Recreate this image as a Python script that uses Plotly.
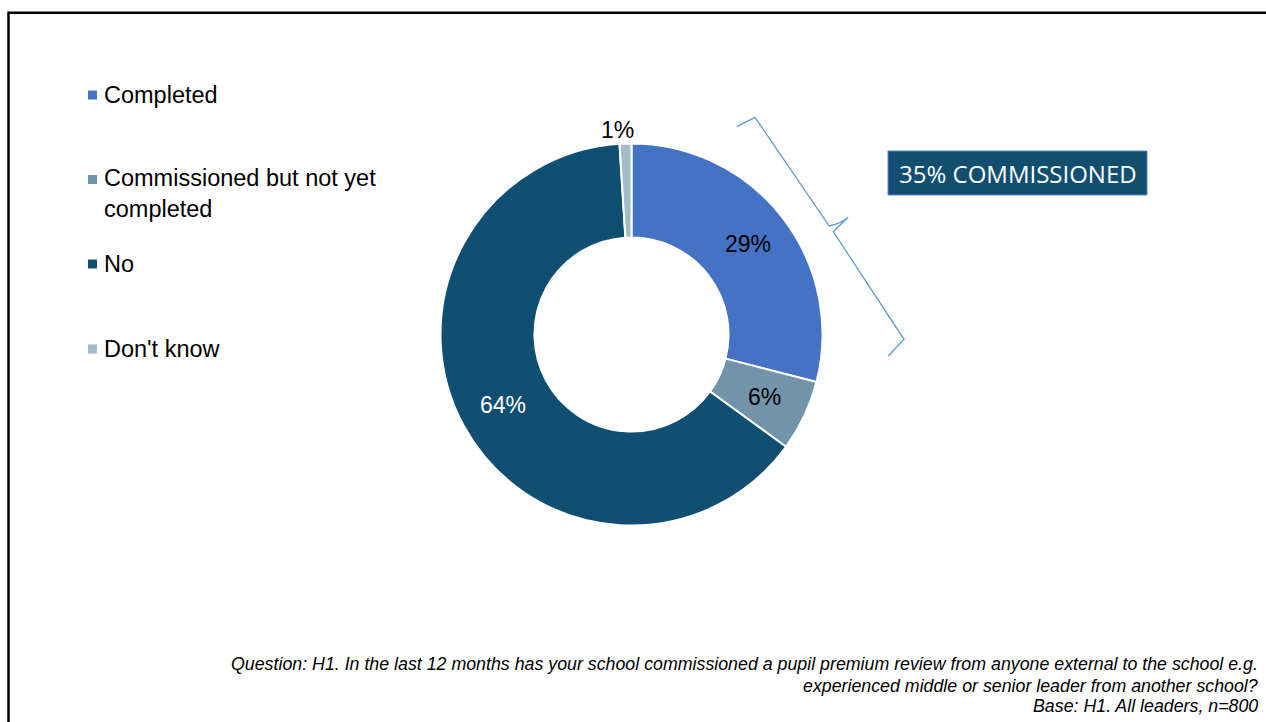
import math
import plotly.graph_objects as go

# Survey responses (share of leaders, %)
categories = ["Completed", "Commissioned but not yet<br>completed", "No", "Don't know"]
slice_names = ["Completed", "Commissioned but not yet completed", "No", "Don't know"]
values = [29, 6, 64, 1]
colors = ["#4472C4", "#7294AB", "#114F72", "#A2BBCB"]
label_colors = ["black", "black", "white", "black"]

commissioned_total = values[0] + values[1]
footnote = [
    "Question: H1. In the last 12 months has your school commissioned a pupil premium review from anyone external to the school e.g.",
    "experienced middle or senior leader from another school?",
    "Base: H1. All leaders, n=800",
]

W, H = 1266, 722


def px(x):
    return x / W


def py(y):
    return 1 - y / H


# Donut geometry in page pixels
cx, cy, r_out = 631.5, 334.5, 191
hole = 0.508

fig = go.Figure(
    go.Pie(
        labels=slice_names,
        values=values,
        sort=False,
        direction="clockwise",
        rotation=0,
        hole=hole,
        marker=dict(colors=colors, line=dict(color="white", width=2)),
        textinfo="none",
        hoverinfo="label+percent",
        showlegend=False,
        domain=dict(x=[px(cx - r_out), px(cx + r_out)], y=[py(cy + r_out), py(cy - r_out)]),
    )
)

annotations = []
shapes = []

# Percentage labels placed at each slice's mid-angle
total = sum(values)
cum = 0
r_in = r_out * hole
for v, fcol in zip(values, label_colors):
    mid = (cum + v / 2) / total * 2 * math.pi
    cum += v
    if v >= 5:
        r = (r_out + r_in) / 2 + 3
    else:
        r = r_out + 14
    lx = cx + r * math.sin(mid)
    ly = cy - r * math.cos(mid)
    if v < 5:
        lx -= 8
    annotations.append(
        dict(
            x=px(lx), y=py(ly), xref="paper", yref="paper",
            text=f"{v}%", showarrow=False,
            font=dict(family="Liberation Sans, Arial", size=23, color=fcol),
            xanchor="center", yanchor="middle",
        )
    )

# Legend drawn as swatches and labels down the left side
legend_y = [95, 193, 264, 349]
for name, col, ly in zip(categories, colors, legend_y):
    off = 13.5 if "<br>" in name else 0
    shapes.append(
        dict(type="rect", xref="paper", yref="paper",
             x0=px(88), x1=px(97), y0=py(ly - off + 4.5), y1=py(ly - off - 4.5),
             fillcolor=col, line=dict(width=0))
    )
    annotations.append(
        dict(x=px(102), y=py(ly), xref="paper", yref="paper",
             text=name, showarrow=False, align="left",
             xanchor="left", yanchor="middle",
             font=dict(family="Liberation Sans, Arial", size=23.5, color="black"))
    )

# Curly brace spanning the commissioned slices
bx = [736.7, 755, 829.3, 848.3, 833.3, 904, 888.3]
by = [126.7, 117.3, 226, 217.3, 231.7, 339.3, 356]
path = (
    f"M {px(bx[0])},{py(by[0])} L {px(bx[1])},{py(by[1])} L {px(bx[2])},{py(by[2])} "
    f"Q {px(842)},{py(223)} {px(bx[3])},{py(by[3])} "
    f"Q {px(838)},{py(227)} {px(bx[4])},{py(by[4])} "
    f"L {px(bx[5])},{py(by[5])} L {px(bx[6])},{py(by[6])}"
)
shapes.append(dict(type="path", xref="paper", yref="paper", path=path,
                   line=dict(color="#5B9BD5", width=1.3)))

# Callout box with the commissioned total
shapes.append(dict(type="rect", xref="paper", yref="paper",
                   x0=px(888), x1=px(1147), y0=py(195), y1=py(151),
                   fillcolor="#124E70", line=dict(color="#5B86C8", width=1)))
annotations.append(dict(x=px(1017.5), y=py(173), xref="paper", yref="paper",
                        text=f"{commissioned_total}% COMMISSIONED", showarrow=False,
                        xanchor="center", yanchor="middle",
                        font=dict(family="Open Sans", size=24, color="white")))

# Footnote, right-aligned at the bottom
for line, ly in zip(footnote, [664, 686, 706]):
    annotations.append(dict(x=px(1260), y=py(ly), xref="paper", yref="paper",
                            text=f"<i>{line}</i>", showarrow=False,
                            xanchor="right", yanchor="middle",
                            font=dict(family="Liberation Sans, Arial", size=17.8, color="black")))

# Outer frame
shapes.append(dict(type="rect", xref="paper", yref="paper",
                   x0=px(8.5), x1=px(1275), y0=py(735), y1=py(12.8),
                   line=dict(color="black", width=2.5), fillcolor="rgba(0,0,0,0)"))

fig.update_layout(
    width=W, height=H,
    margin=dict(l=0, r=0, t=0, b=0),
    paper_bgcolor="white", plot_bgcolor="white",
    annotations=annotations, shapes=shapes,
)

fig.write_html("out.html")
